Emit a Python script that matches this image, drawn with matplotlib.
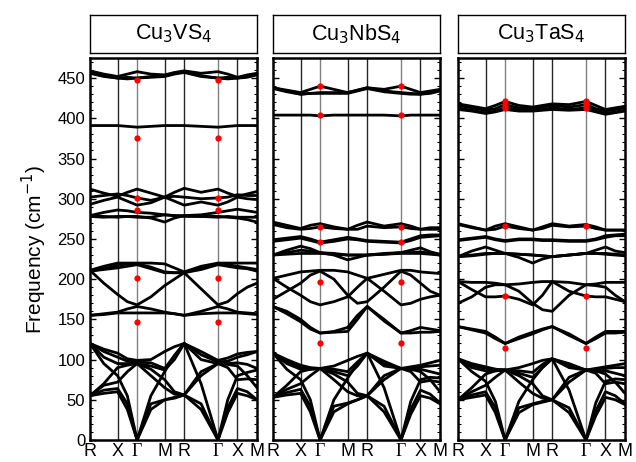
import matplotlib
matplotlib.use("Agg")
import matplotlib.pyplot as plt
from matplotlib.ticker import MultipleLocator
import numpy as np

plt.rcParams['font.family'] = ['Liberation Sans', 'DejaVu Sans']

# k-path R-X-G-M-R-G-X-M of the simple cubic zone (segment lengths, 2pi/a)
path_labels = ['R', 'X', 'Γ', 'M', 'R', 'Γ', 'X', 'M']
seg_len = [0.707, 0.5, 0.707, 0.5, 0.866, 0.5, 0.5]

# band values read at R, mid, X, mid, G, mid, M, mid, R, mid, G, mid, X, mid, M
# ---- Cu3VS4
V_bands = [
    [459, 455, 452, 455, 458, 455, 454, 457, 459, 456, 458, 455, 451, 454, 456],
    [457, 453, 450, 451, 450, 452, 453, 456, 458, 453, 450, 451, 450, 452, 455],
    [456, 452, 450, 449, 450, 451, 452, 455, 457, 452, 450, 449, 450, 451, 454],
    [391, 391, 391, 390, 389, 390, 391, 391, 391, 390, 389, 390, 391, 391, 391],
    [312, 307, 303, 308, 312, 307, 302, 308, 313, 308, 312, 307, 303, 306, 309],
    [302, 304, 306, 304, 301, 298, 302, 303, 302, 300, 301, 302, 305, 304, 304],
    [293, 298, 302, 297, 292, 295, 302, 297, 292, 296, 292, 296, 302, 300, 299],
    [279, 283, 286, 285, 283, 282, 280, 279, 279, 280, 283, 285, 287, 285, 283],
    [279, 278, 277, 278, 278, 276, 271, 276, 279, 278, 278, 277, 276, 274, 271],
    [278, 277, 278, 278, 277, 277, 280, 279, 278, 278, 277, 278, 277, 277, 277],
    [211, 216, 220, 220, 220, 220, 219, 214, 209, 216, 220, 220, 220, 220, 220],
    [210, 213, 217, 219, 219, 215, 209, 208, 208, 214, 219, 218, 216, 214, 212],
    [210, 212, 214, 216, 218, 213, 208, 208, 208, 212, 218, 216, 214, 213, 210],
    [211, 195, 181, 172, 168, 178, 192, 200, 208, 188, 168, 172, 182, 190, 195],
    [155, 157, 159, 163, 166, 163, 159, 157, 155, 160, 166, 163, 159, 158, 157],
    [155, 156, 158, 158, 158, 158, 158, 157, 155, 157, 158, 158, 158, 157, 156],
    [120, 113, 108, 101, 99, 100, 110, 116, 120, 110, 99, 102, 107, 109, 110],
    [120, 110, 103, 98, 97, 96, 89, 105, 120, 106, 97, 98, 103, 106, 110],
    [120, 103, 95, 95, 95, 92, 87, 100, 120, 100, 95, 95, 96, 94, 89],
    [120, 95, 80, 55, 0, 55, 85, 105, 120, 70, 0, 50, 80, 84, 87],
    [55, 68, 72, 85, 95, 88, 75, 60, 56, 80, 95, 90, 75, 76, 75],
    [55, 62, 64, 45, 0, 45, 50, 52, 56, 45, 0, 40, 64, 60, 50],
    [55, 58, 60, 38, 0, 38, 50, 53, 56, 38, 0, 34, 58, 55, 50],
    [55, 70, 90, 93, 95, 80, 65, 57, 56, 85, 95, 94, 92, 80, 65],
]
V_exp = [448, 375, 301, 286, 201, 147]

# ---- Cu3NbS4
Nb_bands = [
    [438, 435, 432, 436, 440, 436, 432, 435, 438, 436, 440, 436, 432, 434, 436],
    [438, 434, 430, 431, 432, 432, 432, 435, 438, 434, 432, 431, 430, 432, 435],
    [437, 433, 430, 431, 431, 431, 431, 434, 437, 433, 431, 430, 430, 431, 434],
    [404, 404, 404, 404, 403, 404, 404, 404, 404, 404, 403, 404, 404, 404, 404],
    [271, 267, 263, 267, 269, 265, 262, 267, 271, 266, 269, 266, 262, 264, 264],
    [268, 264, 262, 263, 265, 263, 262, 262, 266, 264, 265, 263, 262, 262, 262],
    [249, 251, 253, 250, 246, 249, 252, 250, 248, 247, 246, 250, 254, 255, 255],
    [247, 249, 251, 248, 245, 247, 250, 249, 247, 246, 245, 248, 252, 253, 254],
    [230, 236, 241, 238, 233, 230, 224, 227, 230, 232, 233, 236, 239, 234, 231],
    [230, 233, 236, 235, 233, 232, 230, 230, 230, 231, 233, 233, 234, 232, 230],
    [230, 231, 232, 232, 232, 231, 230, 230, 230, 231, 232, 232, 232, 231, 230],
    [201, 205, 209, 210, 211, 211, 209, 205, 201, 206, 211, 211, 209, 208, 207],
    [175, 185, 195, 205, 210, 200, 180, 170, 172, 190, 210, 205, 195, 185, 180],
    [201, 190, 180, 172, 168, 172, 178, 190, 201, 185, 168, 170, 175, 178, 180],
    [166, 157, 147, 138, 133, 134, 135, 150, 166, 150, 133, 133, 134, 134, 135],
    [166, 160, 150, 140, 133, 135, 140, 155, 166, 148, 133, 136, 140, 138, 136],
    [108, 100, 93, 90, 89, 92, 99, 104, 108, 98, 89, 91, 93, 96, 99],
    [108, 98, 91, 89, 89, 88, 85, 97, 108, 95, 89, 89, 91, 92, 93],
    [108, 95, 88, 88, 89, 85, 80, 92, 108, 92, 89, 88, 88, 85, 82],
    [108, 88, 75, 50, 0, 50, 77, 95, 108, 65, 0, 48, 75, 78, 77],
    [53, 63, 70, 80, 89, 82, 72, 58, 55, 75, 89, 85, 72, 74, 72],
    [53, 59, 63, 42, 0, 42, 46, 50, 55, 42, 0, 38, 62, 57, 46],
    [53, 56, 58, 35, 0, 35, 45, 50, 55, 35, 0, 32, 55, 52, 45],
    [53, 68, 85, 88, 89, 75, 60, 55, 55, 80, 89, 88, 85, 75, 60],
]
Nb_exp = [440, 404, 265, 246, 196, 121]

# ---- Cu3TaS4
Ta_bands = [
    [418, 415, 412, 416, 421, 416, 414, 416, 418, 417, 421, 416, 411, 413, 415],
    [416, 413, 410, 412, 417, 413, 412, 414, 416, 414, 417, 412, 409, 411, 413],
    [413, 410, 407, 409, 413, 411, 410, 411, 413, 411, 413, 409, 406, 408, 410],
    [411, 409, 406, 408, 411, 409, 409, 410, 411, 410, 411, 408, 405, 407, 409],
    [269, 265, 261, 266, 269, 265, 261, 265, 269, 266, 268, 265, 261, 261, 261],
    [268, 264, 261, 262, 266, 263, 261, 263, 267, 265, 266, 263, 261, 261, 261],
    [249, 251, 253, 250, 248, 250, 250, 249, 249, 248, 248, 250, 254, 255, 256],
    [248, 250, 252, 249, 247, 249, 249, 248, 248, 247, 247, 249, 252, 254, 254],
    [228, 235, 240, 236, 232, 227, 220, 225, 228, 230, 232, 236, 240, 235, 233],
    [228, 230, 232, 232, 232, 231, 230, 229, 228, 230, 232, 232, 232, 231, 230],
    [228, 229, 231, 232, 232, 231, 230, 229, 228, 230, 232, 232, 231, 230, 229],
    [197, 196, 196, 195, 193, 194, 196, 197, 197, 196, 193, 194, 196, 196, 196],
    [197, 187, 178, 178, 179, 175, 168, 180, 197, 185, 179, 178, 178, 175, 172],
    [170, 178, 190, 193, 193, 185, 170, 162, 160, 180, 193, 192, 190, 180, 172],
    [141, 137, 133, 126, 120, 126, 132, 137, 141, 130, 120, 126, 133, 133, 134],
    [141, 138, 135, 128, 120, 128, 134, 138, 141, 132, 120, 128, 135, 135, 135],
    [101, 95, 91, 88, 87, 90, 95, 99, 101, 95, 87, 89, 91, 93, 95],
    [101, 93, 89, 88, 87, 86, 84, 94, 101, 93, 87, 88, 89, 90, 90],
    [101, 90, 86, 86, 87, 83, 78, 90, 101, 90, 87, 86, 86, 83, 80],
    [101, 85, 73, 48, 0, 48, 75, 90, 101, 62, 0, 46, 73, 76, 75],
    [50, 60, 68, 78, 87, 80, 70, 55, 50, 72, 87, 83, 70, 72, 70],
    [50, 56, 60, 40, 0, 40, 45, 48, 50, 40, 0, 36, 60, 55, 45],
    [50, 53, 56, 34, 0, 34, 44, 47, 50, 34, 0, 30, 53, 50, 44],
    [50, 65, 82, 86, 87, 72, 58, 52, 50, 78, 87, 86, 82, 72, 58],
]
Ta_exp = [421, 417, 413, 266, 179, 114]

names = ['Cu$_3$VS$_4$', 'Cu$_3$NbS$_4$', 'Cu$_3$TaS$_4$']
all_bands = [V_bands, Nb_bands, Ta_bands]
all_exp = [V_exp, Nb_exp, Ta_exp]

# k positions: high-symmetry nodes plus the midpoint of every segment
nodes = np.concatenate([[0], np.cumsum(seg_len)])
kgrid = [nodes[0]]
for i in range(len(seg_len)):
    kgrid += [(nodes[i] + nodes[i + 1]) / 2, nodes[i + 1]]
kgrid = np.array(kgrid)

fig = plt.figure(figsize=(6.36, 4.62), dpi=100)
lefts = [90, 273, 458]
W, H = 636, 462

for j in range(3):
    ax = fig.add_axes([lefts[j] / W, 22 / H, 167 / W, 382 / H])
    for n, xv in enumerate(nodes[1:-1], start=1):
        c = '0.5' if path_labels[n] == 'Γ' else '0.15'
        ax.axvline(xv, color=c, lw=1.0, zorder=1)
    for b in all_bands[j]:
        ax.plot(kgrid, b, color='k', lw=2.0, solid_joinstyle='round',
                solid_capstyle='round', zorder=2)
    for g in [nodes[2], nodes[5]]:
        ax.plot([g] * len(all_exp[j]), all_exp[j], 'o', color='#ff0000',
                ms=4.5, mec='none', zorder=3)
    ax.set_xlim(nodes[0], nodes[-1])
    ax.set_ylim(0, 475)
    ax.yaxis.set_major_locator(MultipleLocator(50))
    ax.yaxis.set_minor_locator(MultipleLocator(10))
    ax.tick_params(axis='y', which='both', direction='in', left=True, right=True,
                   labelsize=12)
    ax.tick_params(axis='y', which='major', length=4.5, width=1)
    ax.tick_params(axis='y', which='minor', length=2.5, width=0.8)
    ax.set_xticks(nodes)
    ax.set_xticklabels(path_labels, fontsize=13)
    ax.tick_params(axis='x', length=0, pad=2)
    for t in ax.get_xticklabels():
        if t.get_text() == 'Γ':
            t.set_fontfamily('Liberation Serif')
    if j > 0:
        ax.set_yticklabels([])
    else:
        ax.set_ylabel('Frequency (cm$^{-1}$)', fontsize=15, labelpad=6)
    for s in ax.spines.values():
        s.set_linewidth(1.8)

    # title box on top of each panel
    tb = fig.add_axes([lefts[j] / W, (H - 53) / H, 167 / W, 38 / H])
    tb.set_xticks([])
    tb.set_yticks([])
    for s in tb.spines.values():
        s.set_linewidth(1.0)
    tb.text(0.5, 0.5, names[j], ha='center', va='center', fontsize=15.5,
            transform=tb.transAxes)

fig.savefig('out.png', dpi=100)
